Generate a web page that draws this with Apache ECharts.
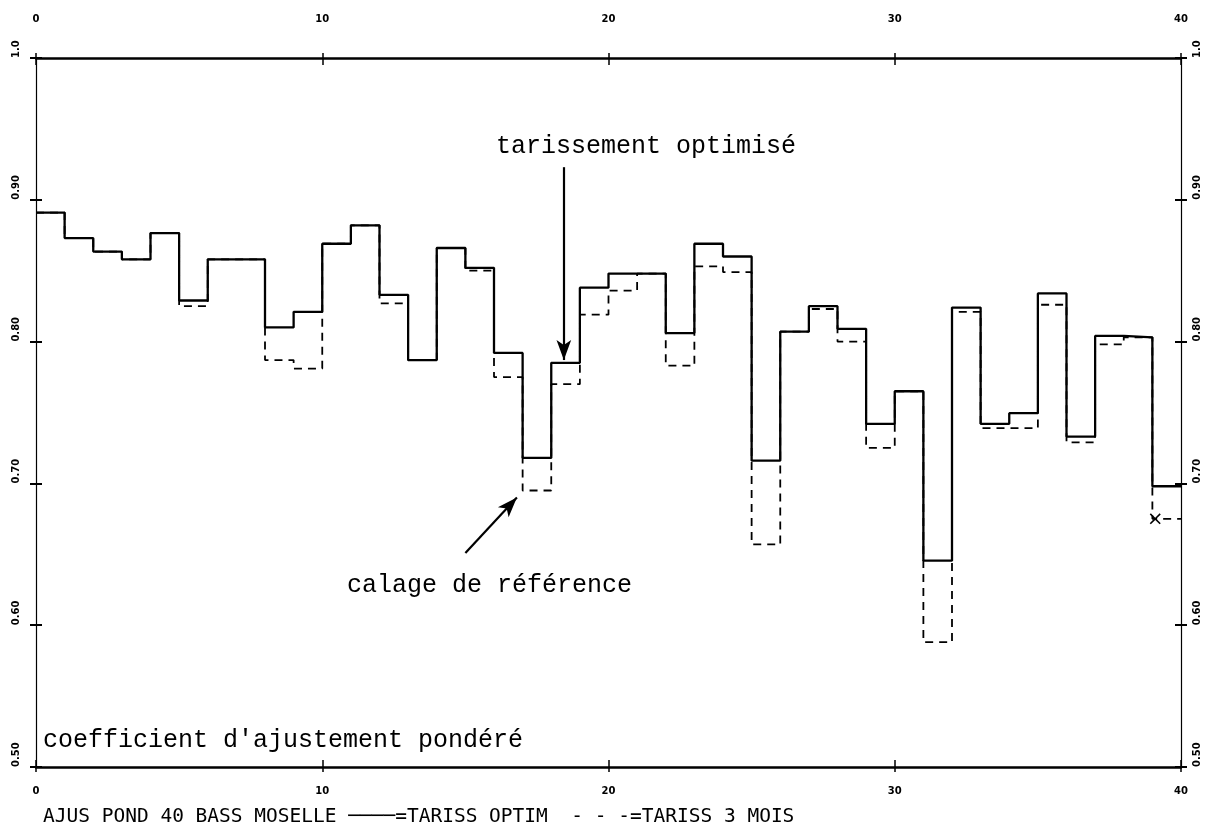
<!DOCTYPE html>
<html>
<head>
<meta charset="utf-8">
<script src="https://cdn.jsdelivr.net/npm/echarts@6/dist/echarts.min.js"></script>
<style>
  html, body { margin: 0; padding: 0; background: #fff; }
  #chart { width: 1208px; height: 835px; }
</style>
</head>
<body>
<div id="chart"></div>
<script>
// Start of each monthly period on the time axis (period i spans [i, i+1])
const periods = [0, 1, 2, 3, 4, 5, 6, 7, 8, 9,
                 10, 11, 12, 13, 14, 15, 16, 17, 18, 19,
                 20, 21, 22, 23, 24, 25, 26, 27, 28, 29,
                 30, 31, 32, 33, 34, 35, 36, 37, 38, 39];

// Weighted fit coefficient, optimised recession
const tarissOptim = [0.891, 0.873, 0.8635, 0.858, 0.8765, 0.829, 0.858, 0.858, 0.810, 0.821,
                     0.869, 0.882, 0.833, 0.787, 0.866, 0.852, 0.792, 0.718, 0.785, 0.838,
                     0.848, 0.848, 0.806, 0.869, 0.860, 0.716, 0.807, 0.825, 0.809, 0.742,
                     0.765, 0.6455, 0.824, 0.742, 0.7495, 0.834, 0.733, 0.804, 0.803, 0.698];

// Weighted fit coefficient, 3-month recession (reference calibration)
const tariss3Mois = [0.891, 0.873, 0.8635, 0.858, 0.8765, 0.825, 0.858, 0.858, 0.787, 0.781,
                     0.869, 0.882, 0.827, 0.787, 0.866, 0.850, 0.775, 0.695, 0.770, 0.819,
                     0.836, 0.848, 0.783, 0.853, 0.849, 0.657, 0.807, 0.823, 0.800, 0.725,
                     0.765, 0.588, 0.821, 0.739, 0.739, 0.826, 0.729, 0.798, 0.803, 0.675];

const xTickValues = [0, 10, 20, 30, 40];
const xTickLabels = ['0', '10', '20', '30', '40'];
const yTickValues = [0.5, 0.6, 0.7, 0.8, 0.9, 1.0];
const yTickLabels = ['0.50', '0.60', '0.70', '0.80', '0.90', '1.0'];

const X_MIN = 0, X_MAX = 40, Y_MIN = 0.5, Y_MAX = 1.0;

function stepData(values) {
  const d = periods.map((p, i) => [p, values[i]]);
  d.push([X_MAX, values[values.length - 1]]);
  return d;
}

function labelFor(values, labels, v) {
  const i = values.findIndex(t => Math.abs(t - v) < 1e-6);
  return i >= 0 ? labels[i] : '';
}

const tickFont = { color: '#000', fontFamily: 'DejaVu Sans', fontWeight: 'bold', fontSize: 10 };

function xAxisDef(position, inside) {
  return {
    type: 'value', min: X_MIN, max: X_MAX, interval: 10, position,
    axisLine: { show: !inside, onZero: false, lineStyle: { color: '#000', width: 2.5 } },
    axisTick: { show: true, inside, length: inside ? 7 : 5, lineStyle: { color: '#000', width: 1.5 } },
    axisLabel: {
      show: !inside, ...tickFont,
      margin: position === 'top' ? 34 : 19,
      formatter: v => labelFor(xTickValues, xTickLabels, v)
    },
    splitLine: { show: false }
  };
}

function yAxisDef(position, inside) {
  return {
    type: 'value', min: Y_MIN, max: Y_MAX, interval: 0.1, position,
    axisLine: { show: !inside, onZero: false, lineStyle: { color: '#000', width: 1.2 } },
    axisTick: { show: true, inside, length: 6, lineStyle: { color: '#000', width: 2 } },
    axisLabel: {
      show: !inside, ...tickFont, rotate: 90,
      align: 'left', verticalAlign: 'middle',
      margin: position === 'left' ? 20 : 16,
      formatter: v => labelFor(yTickValues, yTickLabels, v)
    },
    splitLine: { show: false }
  };
}

const chart = echarts.init(document.getElementById('chart'), null, { renderer: 'canvas' });

const textFont = 'Liberation Mono';
// filled "x" glyph marking the last point of the dashed curve
const crossPath = 'path://M0,1 L1,0 L5,4 L9,0 L10,1 L6,5 L10,9 L9,10 L5,6 L1,10 L0,9 L4,5 Z';

chart.setOption({
  animation: false,
  backgroundColor: '#fff',
  grid: { left: 36, right: 27, top: 58, bottom: 68, containLabel: false },
  xAxis: [xAxisDef('bottom', false), xAxisDef('top', false), xAxisDef('bottom', true), xAxisDef('top', true)],
  yAxis: [yAxisDef('left', false), yAxisDef('right', false), yAxisDef('left', true), yAxisDef('right', true)],
  series: [
    {
      name: 'TARISS 3 MOIS', type: 'line', step: 'end', symbol: 'none',
      xAxisIndex: 0, yAxisIndex: 0, z: 2,
      data: stepData(tariss3Mois),
      lineStyle: { color: '#000', width: 1.8, type: [8, 6] },
      markPoint: {
        silent: true, symbol: crossPath, symbolSize: 11,
        itemStyle: { color: '#000' },
        label: { show: false },
        data: [{ coord: [periods[periods.length - 1] + 0.1, tariss3Mois[tariss3Mois.length - 1]] }]
      }
    },
    {
      name: 'TARISS OPTIM', type: 'line', step: 'end', symbol: 'none',
      xAxisIndex: 0, yAxisIndex: 0, z: 3,
      data: stepData(tarissOptim),
      lineStyle: { color: '#000', width: 2.3 },
      markLine: {
        silent: true, symbol: ['none', 'arrow'], symbolSize: [11, 20],
        label: { show: false },
        lineStyle: { color: '#000', width: 2.2, type: 'solid' },
        data: [
          [{ coord: [18.44, 0.923] }, { coord: [18.44, 0.787] }],
          [{ coord: [15.0, 0.651] }, { coord: [16.8, 0.690] }]
        ]
      }
    }
  ],
  graphic: [
    { type: 'text', left: 496, top: 134,
      style: { text: 'tarissement optimisé', font: `25px "${textFont}"`, fill: '#000' } },
    { type: 'text', left: 347, top: 573,
      style: { text: 'calage de référence', font: `25px "${textFont}"`, fill: '#000' } },
    { type: 'text', left: 43, top: 728,
      style: { text: "coefficient d'ajustement pondéré", font: `25px "${textFont}"`, fill: '#000' } },
    { type: 'text', left: 43, top: 807,
      style: { text: 'AJUS POND 40 BASS MOSELLE ────=TARISS OPTIM  - - -=TARISS 3 MOIS',
               font: '19.5px "DejaVu Sans Mono"', fill: '#000' } }
  ]
});
</script>
</body>
</html>
